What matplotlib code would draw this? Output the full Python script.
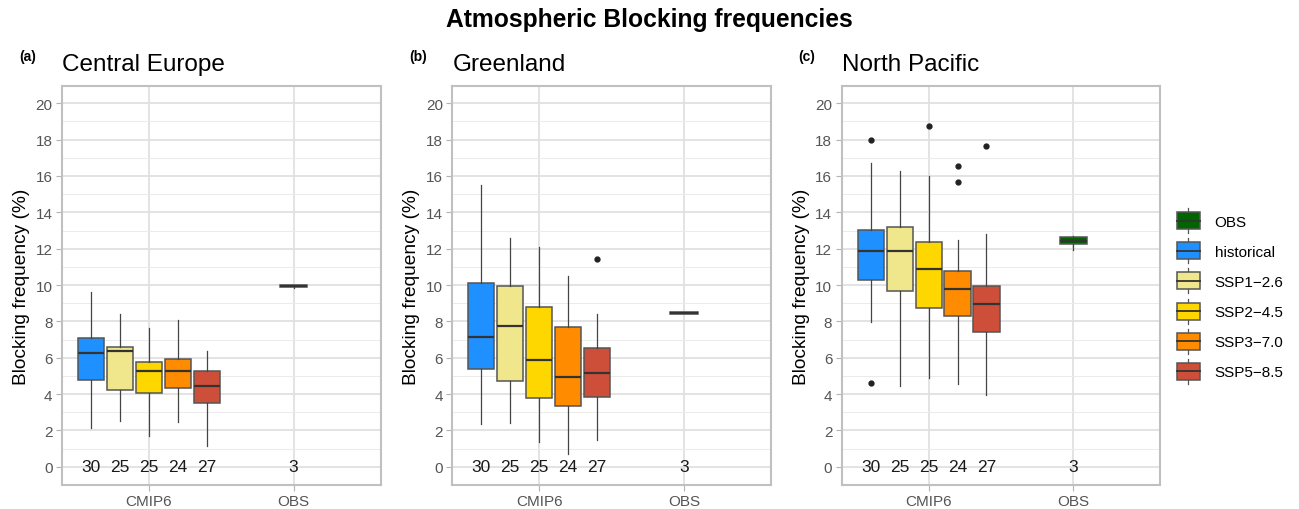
import numpy as np
import matplotlib
matplotlib.use('Agg')
import matplotlib.pyplot as plt
from matplotlib import font_manager as fm
from matplotlib.patches import Rectangle, Patch
from matplotlib.lines import Line2D
from matplotlib.legend_handler import HandlerBase
from matplotlib.ticker import MultipleLocator

plt.rcParams['font.family'] = ['Liberation Sans', 'DejaVu Sans']

# ---- data ----
regions = ['Central Europe', 'Greenland', 'North Pacific']
tags = ['(a)', '(b)', '(c)']
experiments = ['historical', 'SSP1\u22122.6', 'SSP2\u22124.5', 'SSP3\u22127.0', 'SSP5\u22128.5']
counts = [30, 25, 25, 24, 27]
obs_count = 3
colors = {'OBS': '#006400', 'historical': '#1E90FF', 'SSP1\u22122.6': '#F0E68C',
          'SSP2\u22124.5': '#FFD700', 'SSP3\u22127.0': '#FF8C00', 'SSP5\u22128.5': '#CD4F39'}

# whislo, q1, med, q3, whishi per experiment
ce_stats = [[2.15, 4.79, 6.26, 7.06, 9.60],
            [2.50, 4.22, 6.35, 6.61, 8.42],
            [1.67, 4.07, 5.27, 5.74, 7.61],
            [2.44, 4.33, 5.27, 5.91, 8.07],
            [1.12, 3.49, 4.46, 5.28, 6.37]]
gl_stats = [[2.35, 5.36, 7.14, 10.13, 15.50],
            [2.39, 4.70, 7.72, 9.94, 12.60],
            [1.38, 3.80, 5.89, 8.81, 12.09],
            [0.70, 3.34, 4.95, 7.67, 10.50],
            [1.47, 3.85, 5.14, 6.51, 8.40]]
np_stats = [[7.98, 10.28, 11.89, 13.05, 16.73],
            [4.46, 9.65, 11.89, 13.19, 16.26],
            [4.86, 8.73, 10.88, 12.39, 16.00],
            [4.57, 8.28, 9.78, 10.79, 12.50],
            [3.94, 7.43, 8.94, 9.94, 12.81]]
ce_fliers = [[], [], [], [], []]
gl_fliers = [[], [], [], [], [11.45]]
np_fliers = [[17.96, 4.62], [], [18.73], [16.57, 15.65], [17.65]]
obs_stats = [[9.86, 9.89, 9.93, 10.00, 10.02],
             [8.42, 8.43, 8.46, 8.50, 8.51],
             [11.91, 12.24, 12.44, 12.64, 12.72]]

all_stats = [ce_stats, gl_stats, np_stats]
all_fliers = [ce_fliers, gl_fliers, np_fliers]

# plain (not narrow) Liberation Sans Bold for bold text
bold_path = None
for f in fm.fontManager.ttflist:
    if f.name == 'Liberation Sans' and f.style == 'normal' and f.weight in (700, 'bold'):
        bold_path = f.fname
        break


def bold_fp(size):
    if bold_path:
        return fm.FontProperties(fname=bold_path, size=size)
    return fm.FontProperties(family='Liberation Sans', weight='bold', size=size)


W, H = 1299, 510
fig = plt.figure(figsize=(W / 100, H / 100), dpi=100)

ax_left = [62, 452.3, 841.7]
ax_w = 318.5
ax_top, ax_bot = 87, 486

box_edge = '#555555'
med_col = '#333333'

for k in range(3):
    ax = fig.add_axes([ax_left[k] / W, 1 - ax_bot / H, ax_w / W, (ax_bot - ax_top) / H])
    stats = []
    for i, s in enumerate(all_stats[k]):
        stats.append({'whislo': s[0], 'q1': s[1], 'med': s[2], 'q3': s[3], 'whishi': s[4],
                      'fliers': all_fliers[k][i]})
    pos = [1 - 0.4, 1 - 0.2, 1.0, 1 + 0.2, 1 + 0.4]
    bp = ax.bxp(stats, positions=pos, widths=0.18, patch_artist=True, showcaps=False,
                boxprops=dict(edgecolor=box_edge, linewidth=1.1),
                medianprops=dict(color=med_col, linewidth=1.6),
                whiskerprops=dict(color='#444444', linewidth=0.9),
                flierprops=dict(marker='o', markersize=3.5, markerfacecolor='#222222',
                                markeredgecolor='#222222'),
                manage_ticks=False, zorder=3)
    for patch, e in zip(bp['boxes'], experiments):
        patch.set_facecolor(colors[e])
    s = obs_stats[k]
    bo = ax.bxp([{'whislo': s[0], 'q1': s[1], 'med': s[2], 'q3': s[3], 'whishi': s[4],
                  'fliers': []}], positions=[2], widths=0.19, patch_artist=True, showcaps=False,
                boxprops=dict(edgecolor=box_edge, linewidth=1.1),
                medianprops=dict(color=med_col, linewidth=1.6),
                whiskerprops=dict(color='#444444', linewidth=0.9),
                manage_ticks=False, zorder=3)
    bo['boxes'][0].set_facecolor(colors['OBS'])

    for p, c in zip(pos, counts):
        ax.text(p, 0, str(c), ha='center', va='center', fontsize=12.5, color='#1a1a1a', zorder=4)
    ax.text(2, 0, str(obs_count), ha='center', va='center', fontsize=12.5, color='#1a1a1a', zorder=4)

    ax.set_xlim(0.4, 2.6)
    ax.set_ylim(-1.0, 20.95)
    ax.set_xticks([1, 2])
    ax.set_xticklabels(['CMIP6', 'OBS'])
    ax.yaxis.set_major_locator(MultipleLocator(2))
    ax.yaxis.set_minor_locator(MultipleLocator(1))
    ax.grid(True, which='major', color='#E0E0E0', linewidth=1.3, zorder=0)
    ax.grid(True, which='minor', axis='y', color='#EBEBEB', linewidth=0.7, zorder=0)
    ax.set_axisbelow(True)
    ax.tick_params(which='major', length=4, color='#B3B3B3', labelcolor='#555555',
                   labelsize=11, pad=2.8)
    ax.tick_params(which='minor', length=0)
    for sp in ax.spines.values():
        sp.set_color('#C0C0C0')
        sp.set_linewidth(1.5)
    ax.set_ylabel('Blocking frequency (%)', fontsize=13.8, color='black')
    ax.yaxis.set_label_coords(-0.1, 0.5)

    fig.text((ax_left[k]) / W, 1 - 71.5 / H, regions[k], fontsize=17.5, va='baseline', ha='left')
    fig.text((ax_left[k] - 43) / W, 1 - 61.5 / H, tags[k], fontproperties=bold_fp(10),
             va='baseline', ha='left')

fig.text(0.5, 1 - 26.5 / H, 'Atmospheric Blocking frequencies', fontproperties=bold_fp(17.7),
         ha='center', va='baseline')


class BoxKeyHandler(HandlerBase):
    def create_artists(self, legend, orig_handle, xdescent, ydescent, width, height,
                       fontsize, trans):
        x0, y0 = -xdescent, -ydescent
        bh = height * 0.68
        yb = y0 + (height - bh) / 2
        xm = x0 + width / 2
        wl = Line2D([xm, xm], [y0, y0 + height], color='#555555', linewidth=0.9, transform=trans)
        r = Rectangle((x0, yb), width, bh, facecolor=orig_handle.get_facecolor(),
                      edgecolor=box_edge, linewidth=1.1, transform=trans)
        ml = Line2D([x0, x0 + width], [yb + bh / 2] * 2, color=med_col, linewidth=1.3,
                    transform=trans)
        return [wl, r, ml]


leg_names = ['OBS'] + experiments
handles = [Patch(facecolor=colors[n]) for n in leg_names]
fig.legend(handles, leg_names, handler_map={Patch: BoxKeyHandler()},
           loc='center left', bbox_to_anchor=(1176.5 / W, 1 - 297 / H), frameon=False,
           fontsize=11, handlelength=1.57, handleheight=2.14, labelspacing=0.33,
           handletextpad=0.92, borderpad=0, borderaxespad=0)

fig.savefig('out.png', dpi=100)
